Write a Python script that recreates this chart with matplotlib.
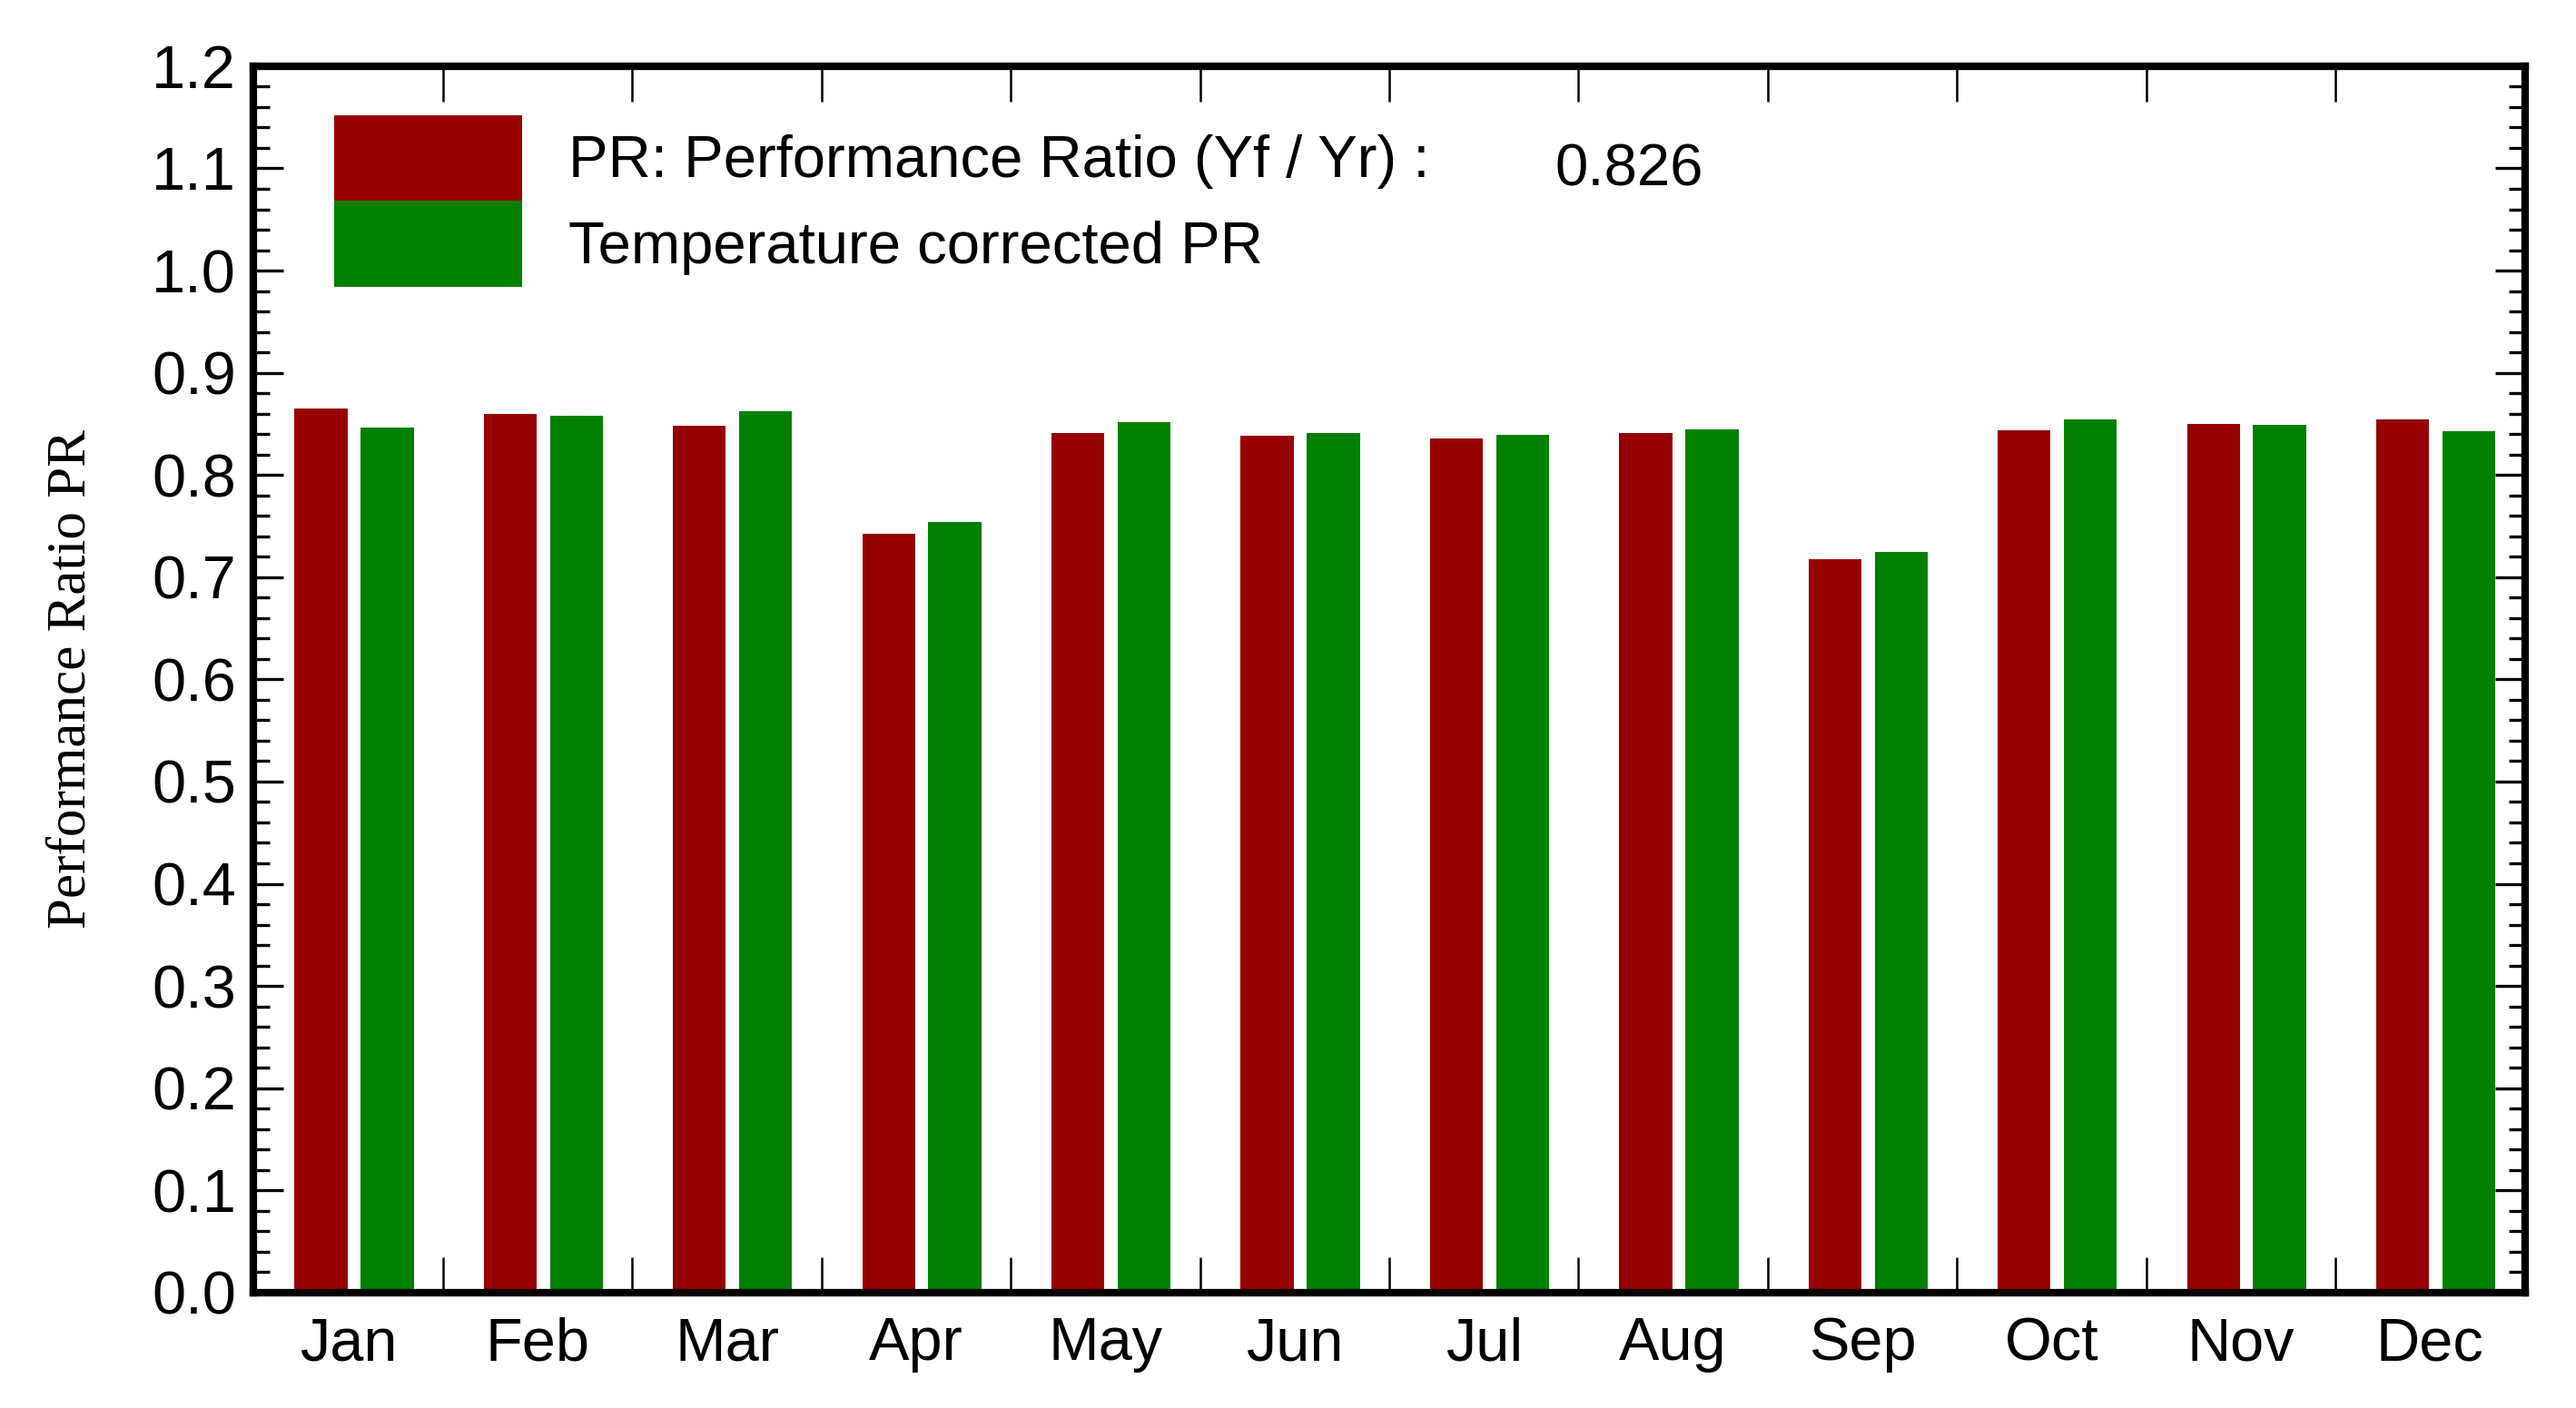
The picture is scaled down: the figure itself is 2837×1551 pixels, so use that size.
import numpy as np
import matplotlib
matplotlib.use("Agg")
import matplotlib.pyplot as plt
from matplotlib.ticker import MultipleLocator, FixedLocator

months = ['Jan', 'Feb', 'Mar', 'Apr', 'May', 'Jun',
          'Jul', 'Aug', 'Sep', 'Oct', 'Nov', 'Dec']
pr = [0.865, 0.860, 0.848, 0.742, 0.841, 0.838, 0.836, 0.841, 0.718, 0.844, 0.850, 0.854]
pr_temp_corr = [0.846, 0.858, 0.862, 0.754, 0.852, 0.841, 0.839, 0.845, 0.725, 0.854, 0.849, 0.843]
pr_year = 0.826

plt.rcParams['font.family'] = ['Liberation Sans', 'DejaVu Sans']

fig = plt.figure(figsize=(28.37, 15.51), dpi=100)
ax = fig.add_axes([0.0985, 0.082, 0.8816, 0.871])

x = np.arange(len(months))
bw = 0.28
ax.bar(x - 0.145, pr, bw, color='#960000', zorder=2,
       label='PR: Performance Ratio (Yf / Yr) :')
ax.bar(x + 0.205, pr_temp_corr, bw, color='#008000', zorder=2,
       label='Temperature corrected PR')

ax.set_xlim(-0.5, len(months) - 0.5)
ax.set_ylim(0, 1.2)

ax.yaxis.set_major_locator(MultipleLocator(0.1))
ax.yaxis.set_minor_locator(MultipleLocator(0.02))
ax.yaxis.set_major_formatter(plt.FormatStrFormatter('%.1f'))
ax.tick_params(axis='y', which='major', direction='in', left=True, right=True,
               length=24, width=2.4, labelsize=48, pad=14)
ax.tick_params(axis='y', which='minor', direction='in', left=True, right=True,
               length=13, width=2.4)

ax.set_xticks(x)
ax.set_xticklabels(months)
ax.xaxis.set_minor_locator(FixedLocator(x[:-1] + 0.5))
ax.tick_params(axis='x', which='major', length=0, labelsize=48, pad=19)
ax.tick_params(axis='x', which='minor', direction='in', top=True, bottom=True,
               length=28, width=1.8)

for s in ax.spines.values():
    s.set_linewidth(6)
    s.set_zorder(3)

ax.set_ylabel('Performance Ratio PR', family=['Liberation Serif'], fontsize=44, labelpad=44)

ax.legend(loc='upper left', bbox_to_anchor=(0.0354, 0.96), frameon=False,
          fontsize=47, handlelength=3.17, handleheight=1.85, labelspacing=0,
          handletextpad=0.78, borderpad=0, borderaxespad=0)
ax.text(0.573, 0.915, f'{pr_year:.3f}', transform=ax.transAxes,
        fontsize=47, va='center', ha='left')

fig.savefig('out.png', dpi=100)
